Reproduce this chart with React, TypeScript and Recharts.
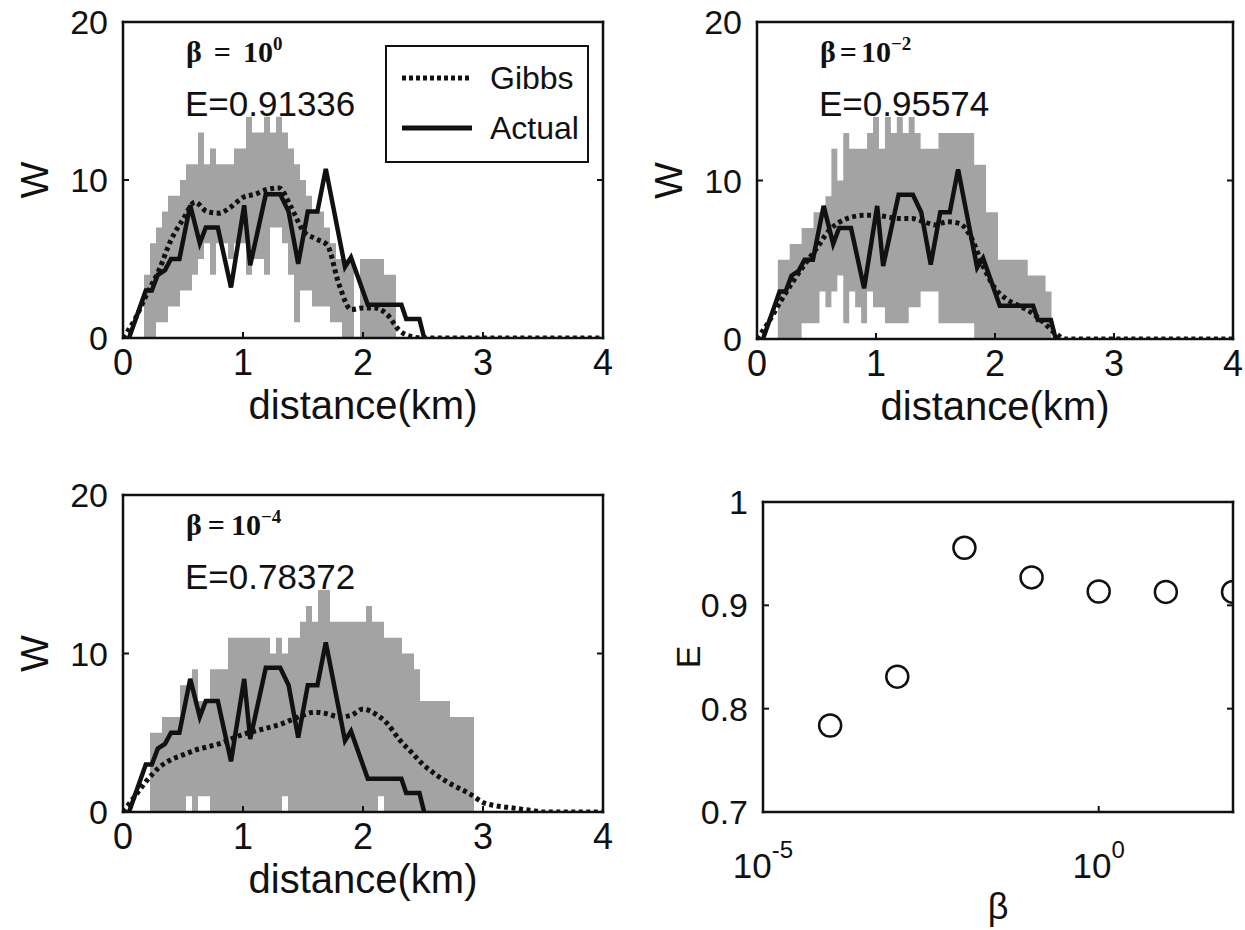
import React from "react";
import {
  ComposedChart,
  XAxis,
  YAxis,
  Area,
  Line,
  Scatter,
  Legend,
  Customized,
} from "recharts";

const INK = "#111";
const BAND = "#a3a3a3";
const SANS = "'Liberation Sans', Arial, Helvetica, sans-serif";
const SERIF = "'Liberation Serif', 'Times New Roman', serif";
const BIN = 0.05;

// observed W along the route (same in every panel)
const actualKm = [0.05, 0.19, 0.24, 0.29, 0.35, 0.4, 0.47, 0.56, 0.64, 0.69, 0.79, 0.9, 1.01, 1.06, 1.19, 1.31, 1.38, 1.46, 1.54, 1.62, 1.69, 1.85, 1.9, 2.04, 2.32, 2.36, 2.47, 2.51];
const actualW = [0, 3, 3, 4, 4.3, 5, 5, 8.4, 6, 7, 7, 3.2, 8.4, 4.6, 9.1, 9.1, 8, 4.7, 8, 8, 10.7, 4.5, 5.1, 2.1, 2.1, 1.2, 1.2, 0];

// Gibbs estimates, 0.1 km grid
const gibbsKm = [0, 0.1, 0.2, 0.3, 0.4, 0.5, 0.6, 0.7, 0.8, 0.9, 1, 1.1, 1.2, 1.3, 1.4, 1.5, 1.6, 1.7, 1.8, 1.9, 2, 2.1, 2.2, 2.3, 2.4, 2.5, 2.6, 2.7, 2.8, 2.9, 3, 3.1, 3.2, 3.3, 3.4, 3.5, 3.6, 3.7, 3.8, 3.9, 4];
const gibbsB0 = [0, 1.2, 2.8, 4.3, 6.2, 7.5, 8.6, 8.0, 7.9, 8.3, 8.9, 9.1, 9.4, 9.5, 8.3, 6.8, 6.3, 5.9, 3.4, 1.8, 1.9, 1.9, 1.5, 0.5, 0.1, 0, 0, 0, 0, 0, 0, 0, 0, 0, 0, 0, 0, 0, 0, 0, 0];
const gibbsB2 = [0, 1.1, 2.4, 3.6, 4.7, 5.7, 6.8, 7.4, 7.7, 7.8, 7.8, 7.7, 7.6, 7.6, 7.4, 7.2, 7.4, 7.3, 6.4, 4.6, 3.2, 2.5, 2.1, 1.7, 1.1, 0.4, 0, 0, 0, 0, 0, 0, 0, 0, 0, 0, 0, 0, 0, 0, 0];
const gibbsB4 = [0, 1.0, 2.0, 2.8, 3.3, 3.6, 3.9, 4.1, 4.3, 4.6, 4.9, 5.1, 5.3, 5.5, 5.8, 6.1, 6.3, 6.2, 6.0, 6.1, 6.5, 6.2, 5.6, 4.6, 3.8, 3.0, 2.4, 1.9, 1.5, 1.1, 0.6, 0.4, 0.3, 0.2, 0.1, 0, 0, 0, 0, 0, 0];

// sample range (grey band), bin centres every 0.05 km
const bandKm = [
  0.15, 0.2, 0.25, 0.3, 0.35, 0.4, 0.45, 0.5, 0.55, 0.6,
  0.65, 0.7, 0.75, 0.8, 0.85, 0.9, 0.95, 1, 1.05, 1.1,
  1.15, 1.2, 1.25, 1.3, 1.35, 1.4, 1.45, 1.5, 1.55, 1.6,
  1.65, 1.7, 1.75, 1.8, 1.85, 1.9, 1.95, 2, 2.05, 2.1,
  2.15, 2.2, 2.25, 2.3, 2.35, 2.4, 2.45, 2.5, 2.55, 2.6,
  2.65, 2.7, 2.75, 2.8, 2.85, 2.9, 2.95,
];
const bandB0Hi = [
  0, 4, 6, 7, 8, 9, 9, 10, 11, 11,
  13, 11, 12, 11, 11, 11, 12, 12, 14, 13,
  13, 14, 13, 14, 13, 12, 11, 10, 9, 8,
  8, 7, 6, 5, 5, 5, 0, 5, 5, 5,
  5, 4, 4, 0, 0, 0, 0, 0, 0, 0,
  0, 0, 0, 0, 0, 0, 0,
];
const bandB0Lo = [
  0, 0, 0, 1, 1, 2, 2, 3, 3, 4,
  5, 6, 4, 6, 6, 5, 6, 6, 4, 5,
  5, 4, 7, 7, 6, 4, 1, 3, 3, 2,
  2, 2, 1, 1, 0, 0, 0, 0, 0, 0,
  0, 0, 0, 0, 0, 0, 0, 0, 0, 0,
  0, 0, 0, 0, 0, 0, 0,
];
const bandB2Hi = [
  0, 5, 5, 6, 6, 7, 7, 8, 8, 9,
  12, 10, 13, 12, 12, 12, 13, 14, 12, 14,
  13, 14, 13, 14, 13, 12, 12, 12, 13, 13,
  13, 13, 13, 13, 11, 11, 8, 8, 5, 5,
  5, 5, 5, 4, 4, 4, 3, 0, 0, 0,
  0, 0, 0, 0, 0, 0, 0,
];
const bandB2Lo = [
  0, 0, 0, 0, 0, 1, 1, 1, 3, 2,
  3, 4, 1, 3, 2, 1, 3, 2, 2, 1,
  1, 1, 1, 2, 2, 3, 3, 3, 1, 1,
  1, 1, 1, 1, 0, 0, 0, 0, 0, 0,
  0, 0, 0, 0, 0, 0, 0, 0, 0, 0,
  0, 0, 0, 0, 0, 0, 0,
];
const bandB4Hi = [
  0, 0, 5, 5, 6, 6, 6, 8, 8, 9,
  7, 7, 9, 9, 9, 11, 11, 11, 11, 11,
  11, 11, 10, 11, 10, 11, 11, 12, 13, 12,
  14, 14, 12, 12, 12, 12, 12, 12, 13, 12,
  12, 11, 11, 11, 10, 10, 9, 7, 7, 7,
  7, 7, 6, 6, 6, 6, 0,
];
const bandB4Lo = [
  0, 0, 0, 0, 0, 0, 0, 0, 1, 0,
  1, 1, 0, 0, 0, 0, 0, 0, 0, 0,
  0, 0, 0, 0, 1, 0, 0, 0, 0, 0,
  0, 0, 0, 0, 0, 0, 0, 0, 0, 0,
  1, 0, 0, 0, 0, 0, 0, 0, 0, 0,
  0, 0, 0, 0, 0, 0, 0,
];

// efficiency vs beta
const betaVals = [1e-4, 1e-3, 1e-2, 1e-1, 1, 10, 100];
const effVals = [0.7837, 0.831, 0.9557, 0.927, 0.9134, 0.913, 0.913];

const frame = { stroke: INK, strokeWidth: 2.5, strokeLinecap: "square" as const };
const TICK = 6;

function BottomTick({ x, y, payload }: any) {
  return (
    <g>
      <line x1={x} y1={y} x2={x} y2={y - TICK} stroke={INK} strokeWidth={2} />
      <text x={x} y={y + 37} textAnchor="middle" fontFamily={SANS} fontSize={36} fill={INK}>
        {payload.value}
      </text>
    </g>
  );
}

function LogTick({ x, y, payload }: any) {
  const exp = Math.round(Math.log10(payload.value));
  return (
    <g>
      <line x1={x} y1={y} x2={x} y2={y - TICK} stroke={INK} strokeWidth={2} />
      <text x={x} y={y + 66} textAnchor="middle" fontFamily={SANS} fontSize={35} fill={INK}>
        10
        <tspan dy={-20} fontSize={24}>
          {exp}
        </tspan>
      </text>
    </g>
  );
}

function TopTick({ x, y }: any) {
  return <line x1={x} y1={y} x2={x} y2={y + TICK} stroke={INK} strokeWidth={2} />;
}

function LeftTick({ x, y, payload }: any) {
  return (
    <g>
      <line x1={x} y1={y} x2={x + TICK} y2={y} stroke={INK} strokeWidth={2} />
      <text x={x - 15} y={y + 12} textAnchor="end" fontFamily={SANS} fontSize={34} fill={INK}>
        {payload.value}
      </text>
    </g>
  );
}

function RightTick({ x, y }: any) {
  return <line x1={x} y1={y} x2={x - TICK} y2={y} stroke={INK} strokeWidth={2} />;
}

const legendOrder = ["Gibbs", "Actual"];
const legendDash: Record<string, string | undefined> = {
  Gibbs: "4 3",
  Actual: undefined,
};

function LegendBox({ payload }: any) {
  const items = (payload || [])
    .filter((p: any) => legendOrder.includes(p.value))
    .sort((a: any, b: any) => legendOrder.indexOf(a.value) - legendOrder.indexOf(b.value));
  return (
    <div
      style={{
        position: "relative",
        width: 204,
        height: 118,
        border: `2px solid ${INK}`,
        boxSizing: "border-box",
        background: "#fff",
        fontFamily: SANS,
        fontSize: 32,
        color: INK,
      }}
    >
      {items.map((p: any, i: number) => (
        <div
          key={p.value}
          style={{ position: "absolute", left: 0, top: 12 + i * 50, height: 38, display: "flex", alignItems: "center" }}
        >
          <svg width={72} height={10} style={{ marginLeft: 15 }}>
            <line x1={0} y1={5} x2={70} y2={5} stroke={INK} strokeWidth={5} strokeDasharray={legendDash[p.value]} />
          </svg>
          <span style={{ marginLeft: 16, lineHeight: "38px" }}>{p.value}</span>
        </div>
      ))}
    </div>
  );
}

function HistNotes({ plot, exp, eText, gap }: any) {
  return (
    <g>
      <text x={plot.x + 63} y={plot.y + 40} fontFamily={SERIF} fontWeight="bold" fontSize={30} fill={INK}>
        β
        <tspan dx={gap}>=</tspan>
        <tspan dx={gap}>10</tspan>
        <tspan dy={-12} fontSize={19}>
          {exp}
        </tspan>
      </text>
      <text x={plot.x + 62} y={plot.y + 94} fontFamily={SANS} fontSize={35} fill={INK}>
        {eText}
      </text>
      <text
        transform={`translate(48, ${plot.y + plot.h / 2}) rotate(-90)`}
        textAnchor="middle"
        fontFamily={SANS}
        fontSize={39}
        fill={INK}
      >
        W
      </text>
      <text x={plot.x + plot.w / 2} y={plot.y + plot.h + 81} textAnchor="middle" fontFamily={SANS} fontSize={40} fill={INK}>
        distance(km)
      </text>
    </g>
  );
}

type HistProps = {
  left: number;
  top: number;
  width: number;
  height: number;
  margin: { top: number; right: number; bottom: number; left: number };
  gibbs: number[];
  lo: number[];
  hi: number[];
  exp: string;
  eText: string;
  gap: number;
  legend?: boolean;
};

function HistPanel({ left, top, width, height, margin, gibbs, lo, hi, exp, eText, gap, legend }: HistProps) {
  const plot = { x: 123, y: margin.top, w: width - 123 - margin.right, h: height - margin.top - margin.bottom - 100 };
  const bandRows = bandKm.map((c, i) => ({ km: c - BIN / 2, range: [lo[i], hi[i]] }));
  const gibbsRows = gibbsKm.map((km, i) => ({ km, w: gibbs[i] }));
  const actualRows = actualKm.map((km, i) => ({ km, w: actualW[i] }));

  return (
    <div style={{ position: "absolute", left, top }}>
      <ComposedChart width={width} height={height} margin={margin}>
        <XAxis
          xAxisId="b"
          dataKey="km"
          type="number"
          domain={[0, 4]}
          ticks={[0, 1, 2, 3, 4]}
          interval={0}
          height={100}
          tickSize={0}
          tickMargin={0}
          tickLine={false}
          axisLine={frame}
          tick={BottomTick}
          allowDataOverflow
        />
        <XAxis
          xAxisId="t"
          orientation="top"
          mirror
          type="number"
          domain={[0, 4]}
          ticks={[1, 2, 3]}
          interval={0}
          tickSize={0}
          tickMargin={0}
          tickLine={false}
          axisLine={frame}
          tick={TopTick}
          allowDataOverflow
        />
        <YAxis
          yAxisId="l"
          type="number"
          domain={[0, 20]}
          ticks={[0, 10, 20]}
          interval={0}
          width={123}
          tickSize={0}
          tickMargin={0}
          tickLine={false}
          axisLine={frame}
          tick={LeftTick}
          allowDataOverflow
        />
        <YAxis
          yAxisId="r"
          orientation="right"
          mirror
          type="number"
          domain={[0, 20]}
          ticks={[10]}
          interval={0}
          tickSize={0}
          tickMargin={0}
          tickLine={false}
          axisLine={frame}
          tick={RightTick}
          allowDataOverflow
        />
        <Area
          xAxisId="b"
          yAxisId="l"
          data={bandRows}
          dataKey="range"
          type="stepAfter"
          fill={BAND}
          fillOpacity={1}
          stroke="none"
          legendType="none"
          isAnimationActive={false}
        />
        <Line
          xAxisId="b"
          yAxisId="l"
          data={gibbsRows}
          dataKey="w"
          name="Gibbs"
          type="monotone"
          stroke={INK}
          strokeWidth={5}
          strokeDasharray="4 3.5"
          dot={false}
          isAnimationActive={false}
        />
        <Line
          xAxisId="b"
          yAxisId="l"
          data={actualRows}
          dataKey="w"
          name="Actual"
          type="linear"
          stroke={INK}
          strokeWidth={4.5}
          dot={false}
          isAnimationActive={false}
        />
        {legend && (
          <Legend
            layout="horizontal"
            verticalAlign="middle"
            align="center"
            content={(props: any) => <LegendBox payload={props.payload} />}
            wrapperStyle={{ position: "absolute", left: 385, top: 45, width: 204, height: 118 }}
          />
        )}
        <Customized component={<HistNotes plot={plot} exp={exp} eText={eText} gap={gap} />} />
      </ComposedChart>
    </div>
  );
}

// right edge of the beta plot area, in chart pixels (marker is cut there)
const BETA_RIGHT = 593;
const RING_R = 11;

function Ring(props: any) {
  const { cx, cy } = props;
  const dx = BETA_RIGHT - cx;
  if (dx >= RING_R) {
    return <circle cx={cx} cy={cy} r={RING_R} fill="none" stroke={INK} strokeWidth={2.5} />;
  }
  const h = Math.sqrt(RING_R * RING_R - dx * dx);
  const large = dx > 0 ? 1 : 0;
  return (
    <path
      d={`M ${BETA_RIGHT} ${cy - h} A ${RING_R} ${RING_R} 0 ${large} 0 ${BETA_RIGHT} ${cy + h}`}
      fill="none"
      stroke={INK}
      strokeWidth={2.5}
    />
  );
}

function BetaNotes() {
  return (
    <g>
      <text transform="translate(60, 184) rotate(-90)" textAnchor="middle" fontFamily={SANS} fontSize={34} fill={INK}>
        E
      </text>
      <text x={358} y={446} textAnchor="middle" fontFamily={SANS} fontSize={36} fill={INK}>
        β
      </text>
    </g>
  );
}

function BetaPanel() {
  const rows = betaVals.map((beta, i) => ({ beta, e: effVals[i] }));
  return (
    <div style={{ position: "absolute", left: 640, top: 473 }}>
      <ComposedChart width={605} height={457} margin={{ top: 29, right: 12, bottom: 18, left: 0 }}>
        <XAxis
          xAxisId="b"
          dataKey="beta"
          type="number"
          scale="log"
          domain={[1e-5, 100]}
          ticks={[1e-5, 1]}
          interval={0}
          height={100}
          tickSize={0}
          tickMargin={0}
          tickLine={false}
          axisLine={frame}
          tick={LogTick}
          allowDataOverflow
        />
        <XAxis
          xAxisId="t"
          orientation="top"
          mirror
          type="number"
          scale="log"
          domain={[1e-5, 100]}
          ticks={[1]}
          interval={0}
          tickSize={0}
          tickMargin={0}
          tickLine={false}
          axisLine={frame}
          tick={TopTick}
          allowDataOverflow
        />
        <YAxis
          yAxisId="l"
          dataKey="e"
          type="number"
          domain={[0.7, 1]}
          ticks={[0.7, 0.8, 0.9, 1]}
          interval={0}
          width={123}
          tickSize={0}
          tickMargin={0}
          tickLine={false}
          axisLine={frame}
          tick={LeftTick}
          allowDataOverflow
        />
        <YAxis
          yAxisId="r"
          orientation="right"
          mirror
          type="number"
          domain={[0.7, 1]}
          ticks={[0.8, 0.9]}
          interval={0}
          tickSize={0}
          tickMargin={0}
          tickLine={false}
          axisLine={frame}
          tick={RightTick}
          allowDataOverflow
        />
        <Scatter xAxisId="b" yAxisId="l" data={rows} dataKey="e" shape={Ring} isAnimationActive={false} />
        <Customized component={<BetaNotes />} />
      </ComposedChart>
    </div>
  );
}

export default function App() {
  return (
    <div
      style={{
        position: "absolute",
        left: 0,
        top: 0,
        width: 1245,
        height: 930,
        overflow: "hidden",
        background: "#fff",
      }}
    >
      <HistPanel
        left={0}
        top={0}
        width={620}
        height={450}
        margin={{ top: 22, right: 17, bottom: 12, left: 0 }}
        gibbs={gibbsB0}
        lo={bandB0Lo}
        hi={bandB0Hi}
        exp="0"
        eText="E=0.91336"
        gap={12}
        legend
      />
      <HistPanel
        left={634}
        top={0}
        width={611}
        height={450}
        margin={{ top: 22, right: 12, bottom: 11, left: 0 }}
        gibbs={gibbsB2}
        lo={bandB2Lo}
        hi={bandB2Hi}
        exp="−2"
        eText="E=0.95574"
        gap={4}
      />
      <HistPanel
        left={0}
        top={473}
        width={620}
        height={450}
        margin={{ top: 22, right: 17, bottom: 11, left: 0 }}
        gibbs={gibbsB4}
        lo={bandB4Lo}
        hi={bandB4Hi}
        exp="−4"
        eText="E=0.78372"
        gap={6}
      />
      <BetaPanel />
    </div>
  );
}
